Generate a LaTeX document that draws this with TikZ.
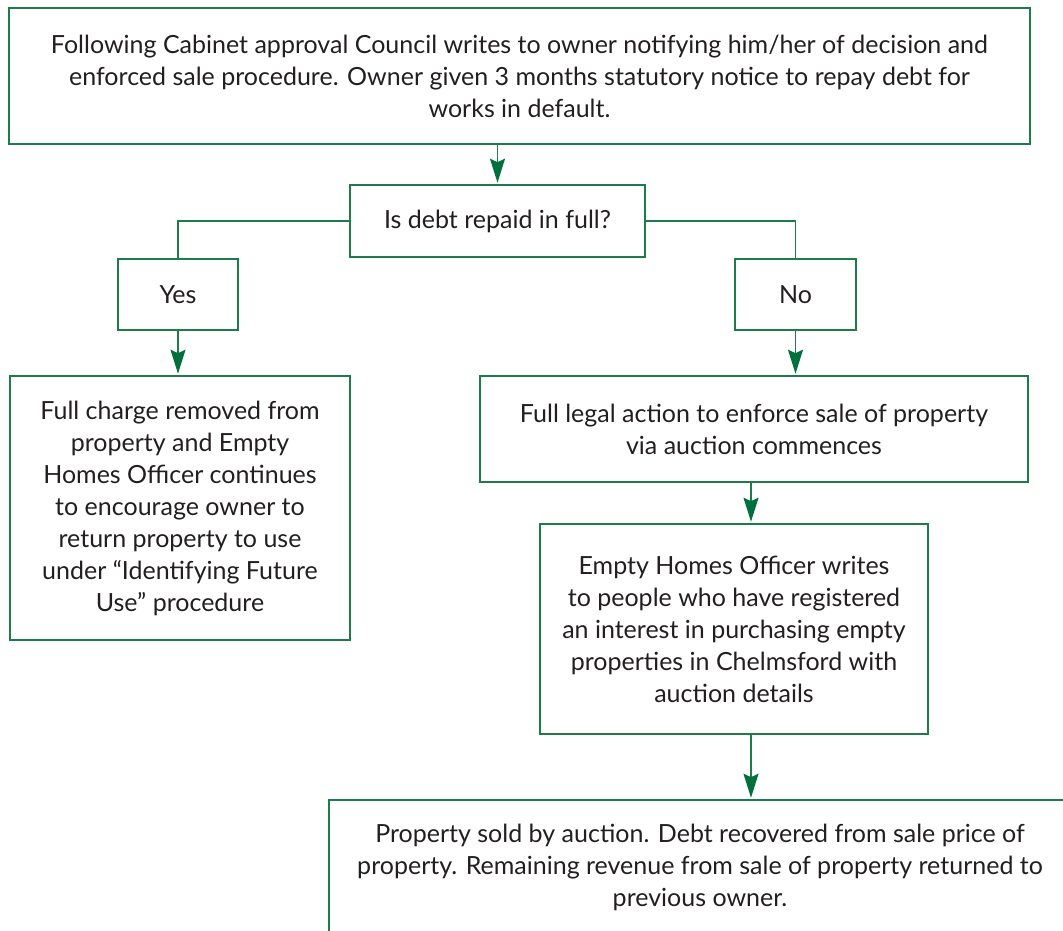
\documentclass[tikz,border=0pt]{standalone}
\usepackage{fontspec}
\setmainfont{Lato}
\usetikzlibrary{arrows.meta}
\definecolor{boxgreen}{HTML}{1E7B4A}
\definecolor{arrowgreen}{HTML}{00703C}
\definecolor{inkgray}{HTML}{231F20}
\begin{document}
\begin{tikzpicture}[x=1pt,y=-1pt,
  every node/.style={text=inkgray,font=\fontsize{25}{32}\selectfont},
  flowbox/.style={draw=boxgreen,line width=1.6pt,fill=white,align=center,inner sep=0pt},
  link/.style={draw=boxgreen,line width=1.6pt},
  flowarrow/.style={link,-{Stealth[length=24pt,width=15pt,inset=3.5pt,color=arrowgreen,fill=arrowgreen]},shorten >=1.5pt}]
\clip (0,0) rectangle (1063,931);
\fill[white] (0,0) rectangle (1063,931);

% boxes
\node[flowbox,minimum width=1021,minimum height=136] (notice) at (519.5,76)
  {Following Cabinet approval Council writes to owner notifying him/her of decision and\\
   enforced sale procedure. Owner given 3 months statutory notice to repay debt for\\
   works in default.};
\node[flowbox,minimum width=295,minimum height=72] (repaid) at (497.5,221)
  {Is debt repaid in full?};
\node[flowbox,minimum width=120,minimum height=71] (yes) at (178,294.5) {Yes};
\node[flowbox,minimum width=121,minimum height=71] (no) at (795.5,294.5) {No};
\node[flowbox,minimum width=340,minimum height=264] (removed) at (180,508)
  {Full charge removed from\\ property and Empty\\ Homes Officer continues\\
   to encourage owner to\\ return property to use\\ under ``Identifying Future\\
   Use'' procedure};
\node[flowbox,minimum width=548,minimum height=106] (legal) at (754,429)
  {Full legal action to enforce sale of property\\ via auction commences};
\node[flowbox,minimum width=388,minimum height=210] (officer) at (734,629)
  {Empty Homes Officer writes\\ to people who have registered\\
   an interest in purchasing empty\\ properties in Chelmsford with\\ auction details};
\node[flowbox,minimum width=742,minimum height=134] (sold) at (700,867)
  {Property sold by auction. Debt recovered from sale price of\\
   property. Remaining revenue from sale of property returned to\\ previous owner.};

% connectors
\coordinate (spine) at (751,0);
\draw[flowarrow] (repaid.north |- notice.south) -- (repaid.north);
\draw[link] (repaid.west) -| (yes.north);
\draw[link] (repaid.east) -| (no.north);
\draw[flowarrow] (yes.south) -- (yes.south |- removed.north);
\draw[flowarrow] (no.south) -- (no.south |- legal.north);
\draw[flowarrow] (legal.south -| spine) -- (officer.north -| spine);
\draw[flowarrow] (officer.south -| spine) -- (sold.north -| spine);
\end{tikzpicture}
\end{document}
